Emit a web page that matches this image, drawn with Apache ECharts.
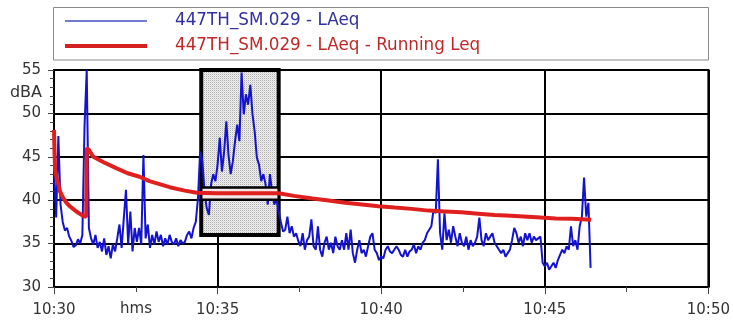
<!DOCTYPE html>
<html>
<head>
<meta charset="utf-8">
<script src="https://cdn.jsdelivr.net/npm/echarts@6/dist/echarts.min.js"></script>
<style>
  html, body { margin: 0; padding: 0; background: #fff; }
  #chart { width: 733px; height: 322px; }
</style>
</head>
<body>
<div id="chart"></div>
<script>
// Sound level log 447TH_SM.029, started 10:30:00. Times are seconds after 10:30:00.
const LAEQ_STEP = 4; // seconds between LAeq samples
const laeqDb = [
  44.0, 38.0, 47.4, 39.5, 37.5, 36.5, 36.8, 35.8, 35.3, 34.6,
  34.8, 35.5, 35.0, 36.0, 48.5, 55.0, 36.8, 35.6, 34.9, 36.0,
  34.5, 35.2, 34.1, 35.6, 33.7, 34.7, 33.3, 34.9, 34.1, 35.6,
  37.2, 34.5, 37.9, 41.2, 34.9, 38.7, 34.1, 36.8, 35.2, 36.8,
  34.9, 45.2, 35.6, 37.2, 34.5, 36.0, 34.9, 36.4, 35.2, 36.0,
  34.7, 35.6, 34.9, 36.0, 35.2, 34.9, 35.6, 34.7, 35.4, 35.0,
  35.2, 36.0, 36.4, 35.6, 36.8, 37.5, 40.2, 45.6, 44.5, 41.0,
  39.1, 38.3, 41.8, 43.0, 42.2, 44.1, 47.2, 43.3, 45.6, 49.1,
  45.2, 43.0, 44.5, 46.8, 48.7, 46.8, 54.7, 49.9, 52.2, 51.0,
  53.3, 49.9, 47.9, 44.9, 44.1, 42.2, 43.0, 41.8, 39.5, 43.0,
  41.0, 39.5, 40.2, 38.7, 37.5, 36.4, 36.6, 38.1, 36.2, 37.0,
  35.8, 36.2, 35.3, 34.7, 36.2, 34.3, 35.4, 35.8, 37.8, 34.7,
  34.3, 37.0, 34.3, 33.5, 35.1, 35.8, 34.3, 35.1, 33.9, 35.8,
  34.7, 34.3, 35.4, 34.3, 36.2, 34.3, 36.6, 33.9, 32.8, 34.3,
  35.4, 33.9, 34.3, 33.5, 34.7, 35.8, 36.2, 34.3, 33.9, 33.1,
  33.5, 33.3, 34.3, 34.7, 34.1, 33.9, 34.3, 34.7, 34.3, 33.7,
  33.5, 34.3, 33.5, 34.1, 34.3, 34.9, 33.9, 34.7, 34.3, 35.1,
  35.4, 36.2, 36.6, 37.0, 38.9, 38.5, 44.7, 36.2, 34.3, 38.5,
  35.4, 36.6, 35.1, 37.0, 35.8, 34.7, 36.2, 35.1, 34.7, 35.8,
  34.3, 35.4, 34.7, 35.1, 35.8, 38.0, 35.4, 34.7, 36.2, 35.4,
  35.8, 36.2, 35.1, 34.7, 34.3, 33.9, 34.3, 33.5, 33.9, 34.3,
  35.4, 36.8, 36.2, 35.1, 35.8, 34.7, 36.2, 35.4, 36.2, 35.1,
  35.8, 35.4, 35.6, 35.8, 32.8, 32.4, 32.8, 32.0, 32.4, 32.8,
  32.2, 33.1, 33.7, 34.3, 33.9, 34.7, 34.3, 37.0, 34.7, 35.4,
  34.3, 37.0, 38.1, 42.6, 38.1, 39.7, 32.2
];

// Running Leq, sampled where the curve bends
const runSec = [0, 1, 2, 5, 8, 11, 17, 23, 29, 35, 41, 47, 53, 59,
  60, 64, 72, 90, 114, 135, 157, 175, 212, 240, 262, 300, 350, 412,
  440, 474, 500, 534, 565, 595, 625, 656, 687, 717, 747, 778, 808,
  838, 869, 893, 920, 950, 985];
const runDb = [48.1, 45.5, 43.6, 42.4, 41.9, 41.0, 40.25, 39.7, 39.3, 39.0, 38.7, 38.45, 38.2, 38.1,
  46.0, 45.8, 45.0, 44.4, 43.7, 43.1, 42.7, 42.2, 41.5, 41.1, 40.85, 40.8, 40.8, 40.8,
  40.5, 40.2, 40.0, 39.7, 39.5, 39.3, 39.15, 39.0, 38.8, 38.7, 38.6, 38.45, 38.3,
  38.2, 38.1, 38.0, 37.9, 37.85, 37.75];

// Selected event period and its Leq band
const eventStartSec = 270;
const eventEndSec = 412;
const eventFloorDb = 36;
const eventLeqLow = 40.05;
const eventLeqHigh = 41.45;

// Axis ticks
const timeTicks = ['10:30', '10:35', '10:40', '10:45', '10:50'];
const levelMin = 30, levelMax = 55, levelStep = 5;

const laeqSeries = laeqDb.map((v, i) => [i * LAEQ_STEP, v]);
const runSeries = runSec.map((s, i) => [s, runDb[i]]);

// dotted grey fill for the event box
function dotPattern() {
  const c = document.createElement('canvas');
  c.width = 2; c.height = 2;
  const g = c.getContext('2d');
  g.fillStyle = '#f2f2f2'; g.fillRect(0, 0, 2, 2);
  g.fillStyle = '#ababab'; g.fillRect(0, 0, 1, 1);
  g.fillStyle = '#dadada'; g.fillRect(1, 1, 1, 1);
  return { image: c, repeat: 'repeat' };
}

const FONT = 'DejaVu Sans';
const chart = echarts.init(document.getElementById('chart'), null, { renderer: 'canvas' });

chart.setOption({
  animation: false,
  backgroundColor: '#fff',
  grid: { left: 54, right: 22, top: 70, bottom: 35, show: true, borderColor: '#000', borderWidth: 2, backgroundColor: 'transparent' },
  xAxis: {
    type: 'value', min: 0, max: 1200, interval: 300,
    axisLine: { show: true, lineStyle: { color: '#000', width: 2 } },
    axisTick: { show: true, length: 7, lineStyle: { color: '#444', width: 1 } },
    minorTick: { show: true, splitNumber: 2, length: 5, lineStyle: { color: '#444', width: 1 } },
    splitLine: { show: true, lineStyle: { color: '#000', width: 2 } },
    axisLabel: {
      margin: 16, color: '#333', fontFamily: FONT, fontSize: 15,
      formatter: v => timeTicks[Math.round(v / 300)]
    }
  },
  yAxis: {
    type: 'value', min: levelMin, max: levelMax, interval: levelStep,
    axisLine: { show: true, lineStyle: { color: '#000', width: 2 } },
    axisTick: { show: true, length: 6, lineStyle: { color: '#444', width: 1 } },
    minorTick: { show: true, splitNumber: 5, length: 4, lineStyle: { color: '#444', width: 1 } },
    splitLine: { show: true, lineStyle: { color: '#000', width: 2 } },
    axisLabel: { margin: 13, color: '#333', fontFamily: FONT, fontSize: 15 }
  },
  series: [
    {
      name: '447TH_SM.029 - LAeq',
      type: 'line', data: laeqSeries, showSymbol: false, z: 2,
      lineStyle: { color: '#1212d0', width: 2 },
      markArea: {
        silent: true, z: 1,
        itemStyle: { color: dotPattern(), borderColor: '#000', borderWidth: 4 },
        data: [[{ xAxis: eventStartSec, yAxis: eventFloorDb }, { xAxis: eventEndSec, yAxis: levelMax }]]
      }
    },
    {
      name: '447TH_SM.029 - LAeq - Running Leq',
      type: 'line', data: runSeries, showSymbol: false, z: 4,
      lineStyle: { color: '#e01f1f', width: 4 },
      markArea: {
        silent: true, z: 3,
        itemStyle: { color: '#f2e6e6', borderColor: '#000', borderWidth: 2.5 },
        data: [[{ xAxis: eventStartSec, yAxis: eventLeqLow }, { xAxis: eventEndSec, yAxis: eventLeqHigh }]]
      }
    }
  ],
  graphic: [
    { type: 'rect', shape: { x: 53.5, y: 7.5, width: 655, height: 52.5 }, style: { fill: '#fff', stroke: '#8a8a8a', lineWidth: 1 } },
    { type: 'line', shape: { x1: 65, y1: 21, x2: 147, y2: 21 }, style: { stroke: '#4050c0', lineWidth: 1.5 } },
    { type: 'line', shape: { x1: 65, y1: 46, x2: 147, y2: 46 }, style: { stroke: '#d42020', lineWidth: 4 } },
    { type: 'text', x: 175, y: 21, style: { text: '447TH_SM.029 - LAeq', fill: '#3030a0', font: '16.8px "DejaVu Sans"', textVerticalAlign: 'middle' } },
    { type: 'text', x: 175, y: 46, style: { text: '447TH_SM.029 - LAeq - Running Leq', fill: '#c02828', font: '16.8px "DejaVu Sans"', textVerticalAlign: 'middle' } },
    { type: 'text', x: 42, y: 92.5, style: { text: 'dBA', fill: '#333', font: '16px "DejaVu Sans"', textAlign: 'right', textVerticalAlign: 'middle' } },
    { type: 'text', x: 136, y: 309, style: { text: 'hms', fill: '#333', font: '15px "DejaVu Sans"', textAlign: 'center', textVerticalAlign: 'middle' } }
  ]
});
</script>
</body>
</html>
